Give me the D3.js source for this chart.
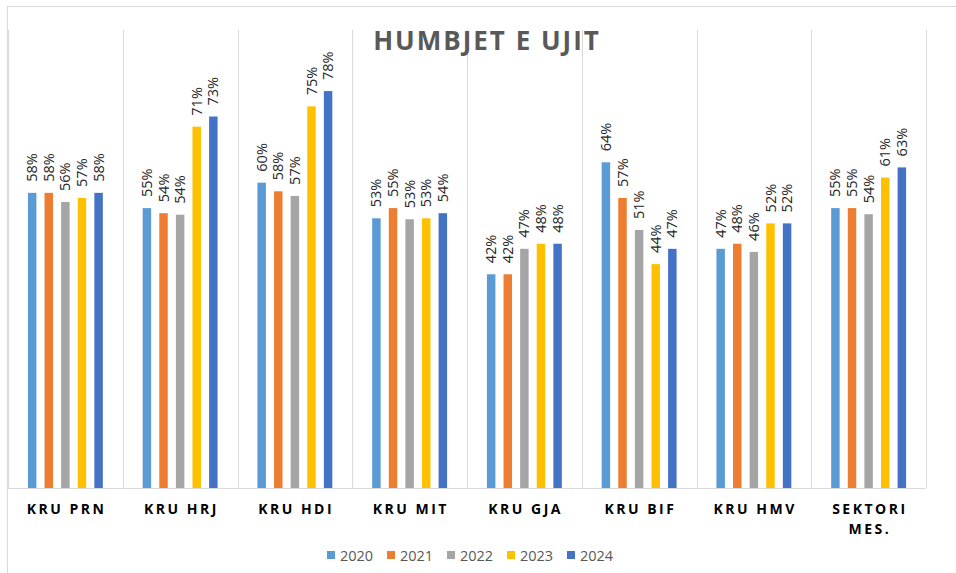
<!DOCTYPE html>
<html lang="en">
<head>
    <meta charset="UTF-8">
    <title>Humbjet e ujit</title>
    <style>
        body { margin: 0; background: #fff; }
        text { font-family: "Open Sans", "Liberation Sans", sans-serif; }
    </style>
</head>
<body>
    <script src="https://d3js.org/d3.v7.min.js"></script>
    <div id="container"></div>
    <script>
        // data
        var categories = ['KRU PRN', 'KRU HRJ', 'KRU HDI', 'KRU MIT', 'KRU GJA', 'KRU BIF', 'KRU HMV', 'SEKTORI MES.'];
        var years = ['2020', '2021', '2022', '2023', '2024'];
        var v2020 = [0.58, 0.55, 0.60, 0.53, 0.42, 0.64, 0.47, 0.55];
        var v2021 = [0.58, 0.54, 0.583, 0.55, 0.42, 0.57, 0.48, 0.55];
        var v2022 = [0.562, 0.537, 0.574, 0.528, 0.47, 0.507, 0.464, 0.538];
        var v2023 = [0.57, 0.71, 0.75, 0.53, 0.48, 0.44, 0.52, 0.61];
        var v2024 = [0.58, 0.73, 0.78, 0.54, 0.48, 0.47, 0.52, 0.63];
        var colors = ['#5B9BD5', '#ED7D31', '#A5A5A5', '#FFC000', '#4472C4'];

        var series = [v2020, v2021, v2022, v2023, v2024];
        var width = 956, height = 573;
        var margin = {top: 30, left: 8, right: 30, bottom: 85};

        var svg = d3.select('#container').append('svg')
            .attr('width', width).attr('height', height);

        // chart frame
        svg.append('rect')
            .attr('x', 7.5).attr('y', 6.5)
            .attr('width', 1000).attr('height', 700)
            .attr('fill', 'none').attr('stroke', '#d9d9d9');

        var x0 = d3.scaleBand().domain(categories).range([margin.left, width - margin.right]);
        var x1 = d3.scaleBand().domain(years).range([0, x0.bandwidth()])
            .paddingInner(0.49).paddingOuter(1.2);
        var y = d3.scaleLinear().domain([0, 0.9]).range([height - margin.bottom, margin.top]);

        // vertical gridlines on category edges
        var edges = categories.map(function(c) { return x0(c); }).concat([x0.range()[1]]);
        svg.append('g').selectAll('line').data(edges).enter()
            .append('line')
            .attr('x1', function(d) { return Math.round(d) + 0.5; })
            .attr('x2', function(d) { return Math.round(d) + 0.5; })
            .attr('y1', y(0.9)).attr('y2', y(0))
            .attr('stroke', '#d9d9d9');

        var rows = [];
        categories.forEach(function(c, i) {
            years.forEach(function(yr, j) {
                rows.push({cat: c, year: yr, value: series[j][i], color: colors[j]});
            });
        });

        var bars = svg.append('g');
        bars.selectAll('rect').data(rows).enter()
            .append('rect')
            .attr('x', function(d) { return x0(d.cat) + x1(d.year); })
            .attr('y', function(d) { return y(d.value); })
            .attr('width', x1.bandwidth())
            .attr('height', function(d) { return y(0) - y(d.value); })
            .attr('fill', function(d) { return d.color; });

        var fmt = d3.format('.0%');
        bars.selectAll('text').data(rows).enter()
            .append('text')
            .attr('transform', function(d) {
                var cx = x0(d.cat) + x1(d.year) + x1.bandwidth() / 2;
                return 'translate(' + cx + ',' + (y(d.value) - 11) + ') rotate(-90)';
            })
            .attr('dy', '0.35em')
            .attr('font-size', 14.5)
            .attr('fill', '#262626')
            .text(function(d) { return fmt(d.value); });

        // baseline
        svg.append('line')
            .attr('x1', x0.range()[0]).attr('x2', x0.range()[1])
            .attr('y1', y(0) + 0.5).attr('y2', y(0) + 0.5)
            .attr('stroke', '#d9d9d9');

        // category labels
        var xAxis = svg.append('g');
        categories.forEach(function(c) {
            var t = xAxis.append('text')
                .attr('x', x0(c) + x0.bandwidth() / 2 + 1.25)
                .attr('y', 514)
                .attr('text-anchor', 'middle')
                .attr('font-size', 14).attr('font-weight', 'bold')
                .attr('letter-spacing', 2.5)
                .attr('fill', '#000');
            var parts = c === 'SEKTORI MES.' ? ['SEKTORI', 'MES.'] : [c];
            parts.forEach(function(p, k) {
                t.append('tspan')
                    .attr('x', x0(c) + x0.bandwidth() / 2 + 1.25)
                    .attr('dy', k === 0 ? 0 : 20)
                    .text(p);
            });
        });

        // title
        svg.append('text')
            .attr('x', 487).attr('y', 50)
            .attr('text-anchor', 'middle')
            .attr('font-size', 26).attr('font-weight', 'bold')
            .attr('letter-spacing', 2)
            .attr('fill', '#595959')
            .text('HUMBJET E UJIT');

        // legend
        var legend = svg.append('g').attr('transform', 'translate(327,550)');
        years.forEach(function(yr, j) {
            var g = legend.append('g').attr('transform', 'translate(' + (j * 60) + ',0)');
            g.append('rect').attr('width', 8).attr('height', 8).attr('y', 1).attr('fill', colors[j]);
            g.append('text').attr('x', 13).attr('y', 10.5)
                .attr('font-size', 14.5).attr('fill', '#595959').text(yr);
        });
    </script>
</body>
</html>
